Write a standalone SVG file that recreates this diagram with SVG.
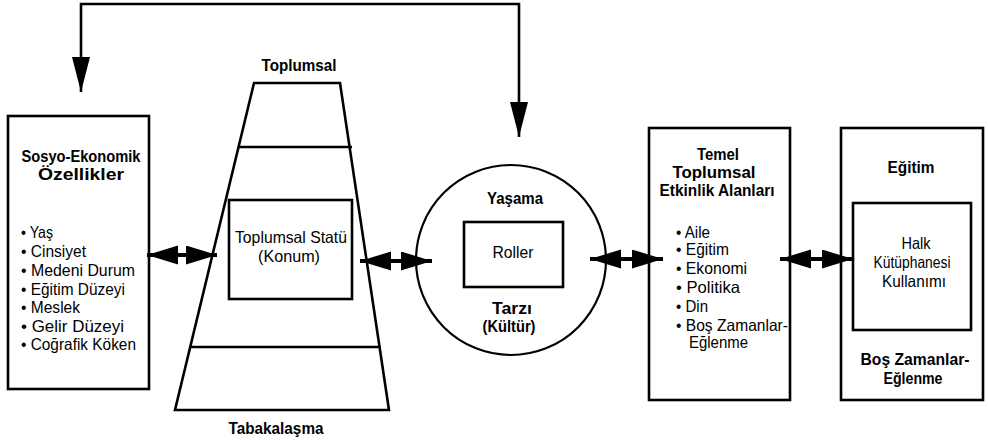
<svg xmlns="http://www.w3.org/2000/svg" width="988" height="442" viewBox="0 0 988 442">
<defs>
<style>
.box{fill:none;stroke:#000;stroke-width:2.6}
.thin{fill:none;stroke:#000;stroke-width:2.2}
.conn{fill:none;stroke:#000;stroke-width:2.6}
.dbl{fill:none;stroke:#000;stroke-width:4}
.b{font-family:"Liberation Sans",Arial,sans-serif;font-weight:bold;font-size:17px;fill:#000}
.r{font-family:"Liberation Sans",Arial,sans-serif;font-size:16.5px;fill:#000}
.c{text-anchor:middle}
</style>
<marker id="big" markerUnits="userSpaceOnUse" markerWidth="36" markerHeight="20" refX="35" refY="9" orient="auto-start-reverse" viewBox="0 0 36 20">
<path d="M0,0 L35,9 L0,18 Z" fill="#000"/>
</marker>
<marker id="dh" markerUnits="userSpaceOnUse" markerWidth="32" markerHeight="20" refX="31" refY="9.5" orient="auto-start-reverse" viewBox="0 0 32 20">
<path d="M0,0 L31,9.5 L0,19 Z" fill="#000"/>
</marker>
</defs>
<rect width="988" height="442" fill="#fff"/>

<g id="connectors">
<path class="conn" d="M81,92 L81,4 L519,4 L519,137" marker-start="url(#big)" marker-end="url(#big)"/>
<line class="dbl" x1="147" y1="255" x2="217" y2="255" marker-start="url(#dh)" marker-end="url(#dh)"/>
<line class="dbl" x1="360" y1="261" x2="432" y2="261" marker-start="url(#dh)" marker-end="url(#dh)"/>
<line class="dbl" x1="590" y1="259" x2="663" y2="259" marker-start="url(#dh)" marker-end="url(#dh)"/>
<line class="dbl" x1="780" y1="259" x2="853" y2="259" marker-start="url(#dh)" marker-end="url(#dh)"/>
</g>

<g id="sosyo-ekonomik">
<rect class="box" x="8" y="116" width="141" height="273"/>
<text class="b c" x="81" y="162" textLength="119" lengthAdjust="spacingAndGlyphs">Sosyo-Ekonomik</text>
<text class="b c" x="81" y="180" textLength="86" lengthAdjust="spacingAndGlyphs">Özellikler</text>
<text class="r" x="21" y="238" textLength="32" lengthAdjust="spacingAndGlyphs">• Yaş</text>
<text class="r" x="21" y="257" textLength="65" lengthAdjust="spacingAndGlyphs">• Cinsiyet</text>
<text class="r" x="21" y="276" textLength="114" lengthAdjust="spacingAndGlyphs">• Medeni Durum</text>
<text class="r" x="21" y="295" textLength="104" lengthAdjust="spacingAndGlyphs">• Eğitim Düzeyi</text>
<text class="r" x="21" y="313" textLength="59" lengthAdjust="spacingAndGlyphs">• Meslek</text>
<text class="r" x="21" y="332" textLength="103" lengthAdjust="spacingAndGlyphs">• Gelir Düzeyi</text>
<text class="r" x="21" y="350" textLength="115" lengthAdjust="spacingAndGlyphs">• Coğrafik Köken</text>
</g>

<g id="tabakalasma">
<text class="b c" x="299" y="71" textLength="75" lengthAdjust="spacingAndGlyphs">Toplumsal</text>
<polygon class="box" points="254,83 340,83 389,410 175,410"/>
<line class="box" x1="239" y1="147" x2="352" y2="147"/>
<line class="box" x1="190" y1="347" x2="381" y2="347"/>
<text class="b c" x="276" y="434" textLength="95" lengthAdjust="spacingAndGlyphs">Tabakalaşma</text>
</g>

<g id="toplumsal-statu">
<rect class="box" x="229" y="200" width="123" height="99"/>
<text class="r c" x="291" y="243" textLength="112" lengthAdjust="spacingAndGlyphs">Toplumsal Statü</text>
<text class="r c" x="289" y="262" textLength="62" lengthAdjust="spacingAndGlyphs">(Konum)</text>
</g>

<g id="yasama-tarzi">
<circle class="thin" cx="511" cy="260" r="95"/>
<text class="b c" x="515" y="204" textLength="56" lengthAdjust="spacingAndGlyphs">Yaşama</text>
<text class="b c" x="512" y="314" textLength="40" lengthAdjust="spacingAndGlyphs">Tarzı</text>
<text class="b c" x="509" y="332" textLength="53" lengthAdjust="spacingAndGlyphs">(Kültür)</text>
</g>

<g id="roller">
<rect class="box" x="464" y="222" width="99" height="65"/>
<text class="r c" x="513" y="258" textLength="41" lengthAdjust="spacingAndGlyphs">Roller</text>
</g>

<g id="temel-toplumsal">
<rect class="box" x="649" y="128" width="141" height="272"/>
<text class="b c" x="718" y="160" textLength="42" lengthAdjust="spacingAndGlyphs">Temel</text>
<text class="b c" x="714" y="178" textLength="83" lengthAdjust="spacingAndGlyphs">Toplumsal</text>
<text class="b c" x="717" y="196" textLength="115" lengthAdjust="spacingAndGlyphs">Etkinlik Alanları</text>
<text class="r" x="676" y="238" textLength="34" lengthAdjust="spacingAndGlyphs">• Aile</text>
<text class="r" x="676" y="255" textLength="53" lengthAdjust="spacingAndGlyphs">• Eğitim</text>
<text class="r" x="676" y="274" textLength="71" lengthAdjust="spacingAndGlyphs">• Ekonomi</text>
<text class="r" x="676" y="293" textLength="64" lengthAdjust="spacingAndGlyphs">• Politika</text>
<text class="r" x="676" y="312" textLength="32" lengthAdjust="spacingAndGlyphs">• Din</text>
<text class="r" x="676" y="331" textLength="112" lengthAdjust="spacingAndGlyphs">• Boş Zamanlar-</text>
<text class="r" x="689" y="348" textLength="59" lengthAdjust="spacingAndGlyphs">Eğlenme</text>
</g>

<g id="egitim-bos-zaman">
<rect class="box" x="841" y="128" width="142" height="272"/>
<text class="b c" x="911" y="173" textLength="47" lengthAdjust="spacingAndGlyphs">Eğitim</text>
<text class="b c" x="915" y="365" textLength="109" lengthAdjust="spacingAndGlyphs">Boş Zamanlar-</text>
<text class="b c" x="913" y="384" textLength="59" lengthAdjust="spacingAndGlyphs">Eğlenme</text>
</g>

<g id="halk-kutuphanesi">
<rect class="box" x="853" y="203" width="118" height="127"/>
<text class="r c" x="916" y="249" textLength="29" lengthAdjust="spacingAndGlyphs">Halk</text>
<text class="r c" x="912" y="268" textLength="77" lengthAdjust="spacingAndGlyphs">Kütüphanesi</text>
<text class="r c" x="914" y="287" textLength="64" lengthAdjust="spacingAndGlyphs">Kullanımı</text>
</g>
</svg>
